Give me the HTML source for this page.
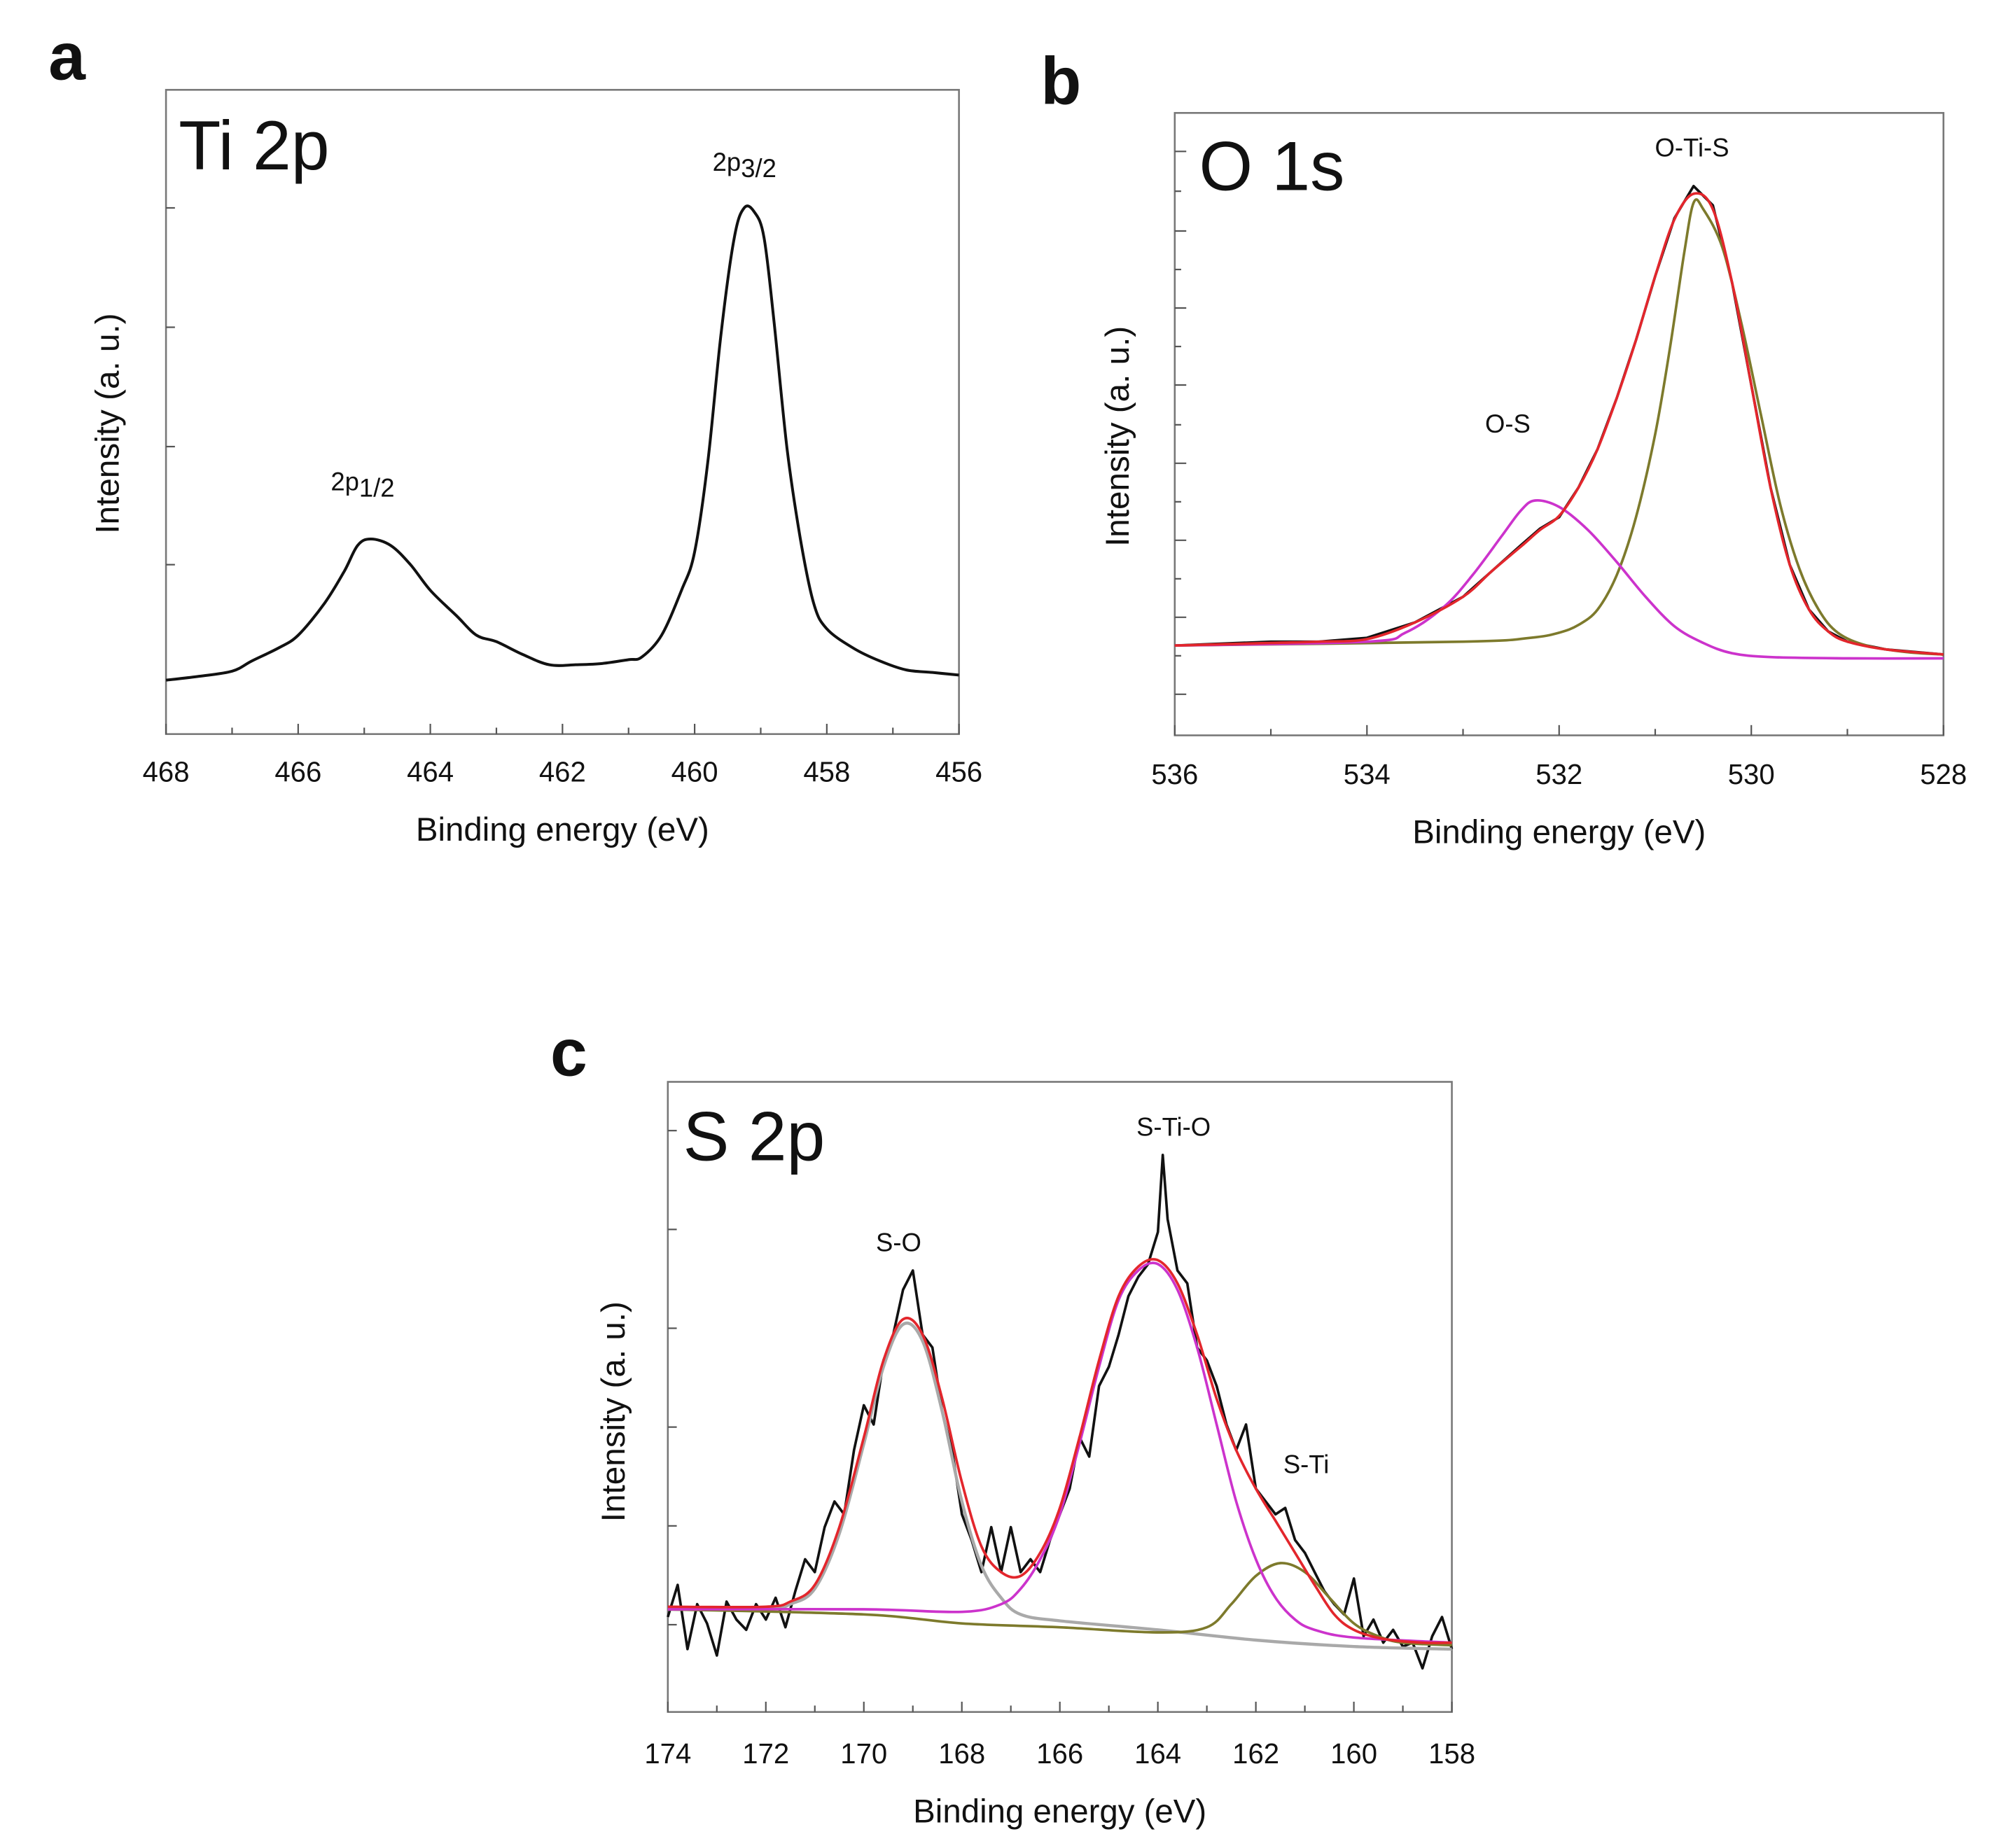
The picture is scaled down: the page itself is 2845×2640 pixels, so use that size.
<!DOCTYPE html>
<html><head><meta charset="utf-8"><style>
html,body{margin:0;padding:0;background:#fff}
svg{display:block}
text{font-family:"Liberation Sans",Arial,sans-serif;fill:#111}
</style></head><body>
<svg id="fig" xmlns="http://www.w3.org/2000/svg" width="2845" height="2640" viewBox="0 0 1560 1440" preserveAspectRatio="none"></svg>
<script>
// ---- Panel a: Ti 2p ----
const aX=[468,467.5,467,466.7,466.3,466,465.6,465.3,465.1,464.9,464.6,464.3,464,463.6,463.3,463,462.6,462.2,461.8,461.4,461,460.8,460.5,460.2,460,459.8,459.6,459.4,459.25,459.1,458.95,458.8,458.6,458.4,458.2,458,457.6,457.2,456.8,456.4,456];
const aRaw=[42,45,49,57,67,77,102,127,147,152,147,132,112,92,77,72,62,54,54,55,58,60,77,112,142,212,312,387,410,407,387,322,222,152,102,82,67,57,50,48,46];
const aXTicks=[468,466,464,462,460,458,456];
const aYTicks=[132,224,317,410];
// ---- Panel b: O 1s ----
const bX=[536,535,534.5,534,533.5,533,532.7,532.4,532.2,532,531.8,531.6,531.4,531.2,531,530.8,530.6,530.4,530.2,530,529.8,529.6,529.4,529.2,529,528.6,528];
const bRaw=[70,73,73,76,88,108,128,148,161,170,193,223,263,308,358,403,428,413,353,273,193,133,98,81,73,67,63];
const bFit=[70,72,73,75,88,108,128,147,160,171,193,223,263,308,358,402,422,410,353,273,193,133,98,81,73,67,63];
const bOSX=[536,534,533.6,533.2,532.9,532.6,532.4,532.25,532.0,531.7,531.4,531.1,530.8,530.5,530.2,529.8,529,528];
const bOS=[70,73,80,100,125,155,175,183,178,160,135,108,85,72,64,61,60,60];
const bOTSX=[536,533,532.3,532,531.8,531.6,531.4,531.2,531,530.85,530.7,530.6,530.5,530.3,530.1,529.9,529.7,529.5,529.3,529.1,528.8,528.4,528];
const bOTS=[70,73,76,80,86,98,125,170,235,300,375,415,410,380,320,250,180,130,98,80,70,65,63];
const bXTicks=[536,534,532,530,528];
const bYTicks=[32,62,92,122,152,182,212,242,273,303,333,363,393,424,455];
// ---- Panel c: S 2p ----
const cX=[174,173.8,173.6,173.4,173.2,173,172.8,172.6,172.4,172.2,172,171.8,171.6,171.4,171.2,171,170.8,170.6,170.4,170.2,170,169.8,169.6,169.4,169.2,169,168.8,168.6,168.4,168.2,168,167.8,167.6,167.4,167.2,167,166.8,166.6,166.4,166.2,166,165.8,165.6,165.4,165.2,165,164.8,164.6,164.4,164.2,164,163.9,163.8,163.6,163.4,163.2,163,162.8,162.6,162.4,162.2,162,161.8,161.6,161.4,161.2,161,160.8,160.6,160.4,160.2,160,159.8,159.6,159.4,159.2,159,158.8,158.6,158.4,158.2,158];
const cRaw=[74,99,49,84,69,44,86,72,64,84,72,89,66,94,119,109,144,164,154,204,239,224,274,294,329,344,294,284,234,204,154,134,109,144,109,144,109,119,109,134,154,174,214,199,254,269,294,324,339,349,374,434,384,344,334,284,274,254,224,204,224,174,164,154,159,134,124,109,94,84,76,104,59,72,54,64,51,54,34,59,74,49];
const cFitX=[174,172,171.5,171,170.5,170,169.6,169.2,168.8,168.4,168,167.6,167.2,166.8,166.4,166,165.6,165.2,164.8,164.4,164,163.6,163.2,162.8,162.4,162,161.6,161.2,160.8,160.4,160,159.4,158.6,158];
const cFit=[82,82,86,99,144,214,274,306,294,244,179,129,109,106,124,159,214,274,324,347,352,334,294,244,204,174,149,124,99,76,64,57,54,54];
const cSOX=[174,172,171.5,171,170.5,170,169.6,169.2,168.8,168.4,168,167.6,167.2,166.8,166,164,162,160,158];
const cSO=[80,80,84,96,139,209,269,302,289,234,164,114,89,76,71,64,56,51,49];
const cSTOX=[174,170,168,167.2,166.8,166.4,166,165.6,165.2,164.8,164.4,164,163.6,163.2,162.8,162.4,162,161.6,161.2,160.8,160,158];
const cSTO=[80,80,78,84,96,119,154,209,269,321,344,349,329,284,224,164,119,89,72,64,58,54];
const cSTX=[174,170,168,166,164,163,162.5,162,161.5,161,160.5,160,159.5,159,158];
const cST=[80,76,69,66,62,66,84,106,116,109,89,69,59,54,52];
const cXTicks=[174,172,170,168,166,164,162,160,158];
const cYTicks=[68,145,222,299,376,453];

const NS='http://www.w3.org/2000/svg';
const svg=document.getElementById('fig');
function mk(tag,attrs,parent){const e=document.createElementNS(NS,tag);for(const k in attrs)e.setAttribute(k,attrs[k]);(parent||svg).appendChild(e);return e;}
function txt(s,attrs,parent){const e=mk('text',attrs,parent);e.textContent=s;return e;}
function smoothPath(P){
  let d='M'+P[0][0].toFixed(1)+','+P[0][1].toFixed(1);
  for(let i=0;i<P.length-1;i++){
    const p0=P[Math.max(0,i-1)],p1=P[i],p2=P[i+1],p3=P[Math.min(P.length-1,i+2)];
    const c1x=p1[0]+(p2[0]-p0[0])/6,c1y=p1[1]+(p2[1]-p0[1])/6;
    const c2x=p2[0]-(p3[0]-p1[0])/6,c2y=p2[1]-(p3[1]-p1[1])/6;
    d+='C'+c1x.toFixed(1)+','+c1y.toFixed(1)+' '+c2x.toFixed(1)+','+c2y.toFixed(1)+' '+p2[0].toFixed(1)+','+p2[1].toFixed(1);
  }
  return d;
}

function panel(o){
  const g=mk('g',{});
  
  
  const L=o.box[0],T=o.box[1],R=o.box[2],B=o.box[3];
  const sx=v=>L+(o.xmax-v)/(o.xmax-o.xmin)*(R-L);
  const sy=v=>B-v/o.ymax*(B-T);
  const frame=mk('rect',{x:L,y:T,width:R-L,height:B-T,fill:'none',stroke:'#777','stroke-width':1.4},g);
  
  
  for(let v=o.xmin;v<=o.xmax;v+=1){
    const major=((o.xmax-v)%2===0);
    const t=mk('line',{x1:sx(v),x2:sx(v),y1:B,y2:B-(major?8:5),stroke:'#555','stroke-width':1.2},g);
    
    
  }
  o.xt.forEach(v=>{
    const t=txt(String(v),{x:sx(v),y:o.xlabY,'text-anchor':'middle','font-size':22},g);
    
    
  });
  o.yt.forEach((v,i)=>{
    const len=o.alt?(i%2===0?9:5):7;
    const t=mk('line',{x1:L,x2:L+len,y1:sy(v),y2:sy(v),stroke:'#555','stroke-width':1.2},g);
    
    
  });
  const xt=txt('Binding energy (eV)',{x:(L+R)/2,y:o.xtitY,'text-anchor':'middle','font-size':26},g);
  
  
  const yt=txt('Intensity (a. u.)',{x:0,y:0,'text-anchor':'middle','font-size':26,transform:`translate(${o.ytit[0]},${o.ytit[1]}) rotate(-90)`},g);
  
  
  o.series.forEach(s=>{
    const P=s.x.map((v,i)=>[sx(v),sy(s.y[i])]);
    const d=s.smooth?smoothPath(P):P.map((p,i)=>(i?'L':'M')+p[0].toFixed(1)+','+p[1].toFixed(1)).join('');
    const p=mk('path',{d:d,fill:'none',stroke:s.c,'stroke-width':s.w||2,'stroke-linejoin':'round'},g);
    
    
  });
  return g;
}

panel({name:'panel-a-ti2p',box:[130,70,751,572],xmin:456,xmax:468,ymax:502,xt:aXTicks,yt:aYTicks,xlabY:609,xtitY:655,ytit:[93,330],
  series:[{x:aX,y:aRaw,c:'#111',w:2.2,n:'ti2p-raw-spectrum',smooth:true}]});
panel({name:'panel-b-o1s',box:[920,88,1522,573],xmin:528,xmax:536,ymax:485,xt:bXTicks,yt:bYTicks,alt:true,xlabY:611,xtitY:657,ytit:[884,340],
  series:[{x:bX,y:bRaw,c:'#111',n:'o1s-raw-spectrum'},{x:bOTSX,y:bOTS,c:'#7d7a2c',n:'o-ti-s-component',smooth:true},{x:bOSX,y:bOS,c:'#cc33cc',n:'o-s-component',smooth:true},{x:bX,y:bFit,c:'#e3262c',n:'o1s-envelope-fit',smooth:true}]});
panel({name:'panel-c-s2p',box:[523,843,1137,1334],xmin:158,xmax:174,ymax:491,xt:cXTicks,yt:cYTicks,xlabY:1374,xtitY:1420,ytit:[489,1100],
  series:[{x:cX,y:cRaw,c:'#111',n:'s2p-raw-spectrum'},{x:cSOX,y:cSO,c:'#a9a9a9',w:2.4,n:'s-o-component',smooth:true},{x:cSTX,y:cST,c:'#7d7a2c',n:'s-ti-component',smooth:true},{x:cSTOX,y:cSTO,c:'#cc33cc',n:'s-ti-o-component',smooth:true},{x:cFitX,y:cFit,c:'#e3262c',n:'s2p-envelope-fit',smooth:true}]});

function label(s,x,y,size,name,bold,anchor){
  const t=txt(s,{x:x,y:y,'font-size':size,'font-weight':bold?'bold':'normal','text-anchor':anchor||'start'});
  
  
  return t;
}
label('a',38,62,52,'panel-letter-a',true);
label('b',815,81,52,'panel-letter-b',true);
label('c',431,838,52,'panel-letter-c',true);
label('Ti 2p',140,132,54,'panel-a-title');
label('O 1s',939,148,54,'panel-b-title');
label('S 2p',535,904,54,'panel-c-title');
const p32=txt('',{x:558,y:133,'font-size':20});


p32.innerHTML='2p<tspan dy="5">3/2</tspan>';
const p12=txt('',{x:259,y:382,'font-size':20});


p12.innerHTML='2p<tspan dy="5">1/2</tspan>';
label('O-Ti-S',1296,122,20,'peak-label-o-ti-s');
label('O-S',1163,337,20,'peak-label-o-s');
label('S-Ti-O',890,885,20,'peak-label-s-ti-o');
label('S-O',686,975,20,'peak-label-s-o');
label('S-Ti',1005,1148,20,'peak-label-s-ti');
</script>
</body></html>
